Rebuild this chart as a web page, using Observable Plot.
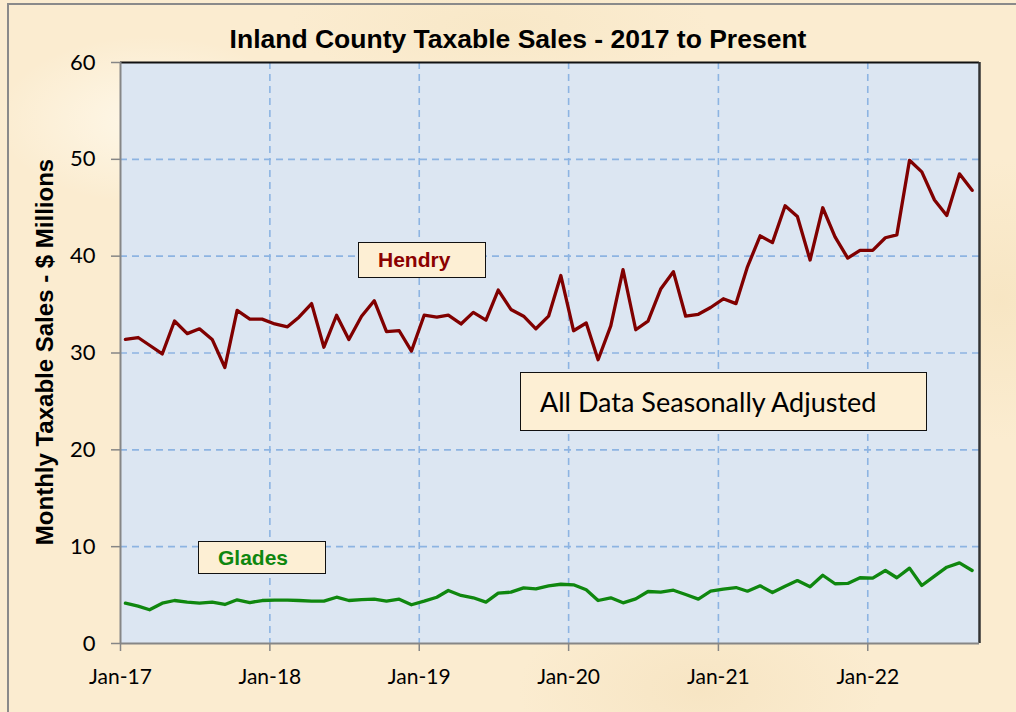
<!DOCTYPE html>
<html><head><meta charset="utf-8">
<script src="https://cdn.jsdelivr.net/npm/d3@7"></script>
<script src="https://cdn.jsdelivr.net/npm/@observablehq/plot@0.6"></script>
<style>
body{margin:0;}
#wrap{position:relative;width:1016px;height:712px;overflow:hidden;
  background:
    radial-gradient(ellipse 220px 120px at 150px 120px, rgba(255,250,238,0.8), rgba(255,250,238,0) 70%),
    radial-gradient(ellipse 260px 140px at 700px 690px, rgba(245,226,190,0.7), rgba(245,226,190,0) 70%),
    radial-gradient(ellipse 200px 200px at 1000px 300px, rgba(246,228,192,0.8), rgba(246,228,192,0) 70%),
    radial-gradient(ellipse 300px 90px at 500px 25px, rgba(247,230,196,0.7), rgba(247,230,196,0) 70%),
    #fbecd0;}
#border{position:absolute;left:7px;top:3px;width:1030px;height:730px;border:2px solid #8a8a8a;box-sizing:border-box;}
#title{position:absolute;left:518px;top:24px;transform:translateX(-50%);white-space:nowrap;
  font:bold 26.5px "Liberation Sans",Arial,sans-serif;color:#000;}
#ylabel{position:absolute;left:45px;top:352px;transform:translate(-50%,-50%) rotate(-90deg);white-space:nowrap;
  font:bold 24px "Liberation Sans",Arial,sans-serif;color:#000;}
.box{position:absolute;background:#fdefd4;border:1.5px solid #111;box-sizing:border-box;display:flex;align-items:center;white-space:nowrap;}
#svgholder{position:absolute;left:0;top:0;}
</style></head>
<body><div id="wrap">
<div id="border"></div>
<div id="svgholder"></div>
<div id="title">Inland County Taxable Sales - 2017 to Present</div>
<div id="ylabel">Monthly Taxable Sales - $ Millions</div>
<div class="box" style="left:358px;top:242px;width:128px;height:36px;padding-left:19px;font:bold 21px 'Liberation Sans',Arial,sans-serif;color:#8b0000;">Hendry</div>
<div class="box" style="left:198px;top:541px;width:128px;height:33px;padding-left:19px;font:bold 21px 'Liberation Sans',Arial,sans-serif;color:#0f870f;">Glades</div>
<div class="box" style="left:520px;top:372px;width:407px;height:59px;padding-left:19px;font:27px Lato,sans-serif;color:#000;">All Data Seasonally Adjusted</div>
</div>
<script>
// Monthly values, Jan 2017 - Sep 2022 ($ millions, seasonally adjusted)
const hendry = [
  31.4, 31.6, 30.8, 29.9, 33.3, 32.0, 32.5, 31.4, 28.5, 34.4, 33.5, 33.5,
  33.0, 32.7, 33.7, 35.1, 30.6, 33.9, 31.4, 33.8, 35.4, 32.2, 32.3, 30.2,
  33.9, 33.7, 33.9, 33.0, 34.2, 33.4, 36.5, 34.5, 33.8, 32.5, 33.8, 38.0,
  32.3, 33.1, 29.3, 32.8, 38.6, 32.4, 33.3, 36.6, 38.4, 33.8, 34.0, 34.7,
  35.6, 35.1, 38.9, 42.1, 41.4, 45.2, 44.1, 39.6, 45.0, 42.0, 39.8, 40.6,
  40.6, 41.9, 42.2, 49.9, 48.7, 45.8, 44.2, 48.5, 46.8
];
const glades = [
  4.16, 3.86, 3.48, 4.16, 4.44, 4.27, 4.16, 4.27, 4.03, 4.51, 4.23, 4.44,
  4.47, 4.47, 4.44, 4.37, 4.37, 4.78, 4.44, 4.54, 4.58, 4.37, 4.58, 4.00,
  4.37, 4.78, 5.47, 4.96, 4.72, 4.27, 5.20, 5.30, 5.75, 5.65, 5.96, 6.12,
  6.06, 5.55, 4.44, 4.72, 4.20, 4.61, 5.37, 5.30, 5.50, 5.06, 4.58, 5.40,
  5.61, 5.78, 5.40, 5.96, 5.27, 5.92, 6.50, 5.86, 7.05, 6.17, 6.20, 6.79,
  6.75, 7.54, 6.79, 7.78, 5.99, 6.95, 7.88, 8.33, 7.54
];
const xTickYears = [2017, 2018, 2019, 2020, 2021, 2022];
const xTickLabels = ["Jan-17", "Jan-18", "Jan-19", "Jan-20", "Jan-21", "Jan-22"];
const yTicks = [0, 10, 20, 30, 40, 50, 60];

const monthDate = i => new Date(Date.UTC(2017, i, 13));
const hendryRows = hendry.map((v, i) => ({date: monthDate(i), value: v}));
const gladesRows = glades.map((v, i) => ({date: monthDate(i), value: v}));
const xTicks = xTickYears.map(y => new Date(Date.UTC(y, 0, 1)));
const labelOf = new Map(xTickYears.map((y, i) => [y, xTickLabels[i]]));
const xMin = new Date(Date.UTC(2017, 0, 1));
const xMax = new Date(Date.UTC(2022, 9, 1));

const grid = {stroke: "#8db4e2", strokeOpacity: 1, strokeWidth: 1.6, strokeDasharray: "7,5"};

const chart = Plot.plot({
  width: 1016, height: 712,
  marginLeft: 120, marginRight: 37, marginTop: 62, marginBottom: 69,
  style: {background: "transparent", fontFamily: "Lato, sans-serif", fontSize: "21px", color: "#000"},
  x: {type: "utc", domain: [xMin, xMax]},
  y: {domain: [0, 60]},
  marks: [
    Plot.frame({fill: "#dce6f2", stroke: null}),
    Plot.gridY(yTicks.slice(1, -1), grid),
    Plot.gridX(xTicks.slice(1), grid),
    Plot.line(hendryRows, {x: "date", y: "value", stroke: "#800000", strokeWidth: 3.3}),
    Plot.line(gladesRows, {x: "date", y: "value", stroke: "#0f870f", strokeWidth: 3.3}),
    Plot.ruleY([60], {stroke: "#111", strokeWidth: 2}),
    Plot.ruleX([xMax], {stroke: "#333", strokeWidth: 2.5}),
    Plot.ruleX([xMin], {stroke: "#868686", strokeWidth: 2}),
    Plot.ruleY([0], {stroke: "#868686", strokeWidth: 2}),
    Plot.axisY(yTicks, {tickSize: 9, tickPadding: 16, stroke: "#868686", strokeWidth: 1.5, fill: "#000", label: null, fontSize: 22}),
    Plot.axisX(xTicks, {tickSize: 8, tickPadding: 18, stroke: "#868686", strokeWidth: 1.5, fill: "#000", label: null, fontSize: 21,
      tickFormat: d => labelOf.get(d.getUTCFullYear())})
  ]
});
document.getElementById("svgholder").appendChild(chart);
</script>
</body></html>
